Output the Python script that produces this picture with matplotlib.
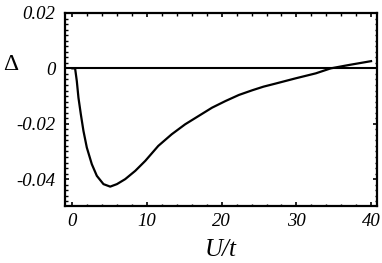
import numpy as np
import matplotlib.pyplot as plt
from matplotlib.ticker import MultipleLocator, FixedLocator

# values
u_t = [0.0, 0.36, 0.59, 0.81, 1.13, 1.48, 1.93, 2.6, 3.27, 4.16, 5.06, 5.96, 7.07,
       8.42, 9.76, 11.5, 13.3, 15.1, 16.9, 18.7, 20.5, 22.3, 24.1, 25.6, 27.2,
       29.9, 32.6, 34.6, 37.0, 40.0]
delta = [0.0, 0.0, -0.0046, -0.0106, -0.0166, -0.0226, -0.0286, -0.0346, -0.0388,
         -0.0418, -0.0427, -0.0418, -0.0400, -0.0370, -0.0334, -0.0280, -0.0238,
         -0.0202, -0.0172, -0.0142, -0.0118, -0.0096, -0.0079, -0.0066, -0.0055,
         -0.0036, -0.0018, 0.0, 0.0012, 0.0026]
x_ticks = [0, 10, 20, 30, 40]
y_ticks = [0.02, 0.0, -0.02, -0.04]
y_labels = ['0.02', '0', '-0.02', '-0.04']

serif = 'Liberation Serif'

fig = plt.figure(figsize=(3.82, 2.63), dpi=100)
ax = fig.add_axes([0.170, 0.2167, 0.817, 0.734])

ax.axhline(0, color='black', lw=1.5)
ax.plot(u_t, delta, color='black', lw=1.6, solid_joinstyle='round')

ax.set_xlim(-1, 40.8)
ax.set_ylim(-0.0497, 0.02)

ax.xaxis.set_major_locator(FixedLocator(x_ticks))
ax.xaxis.set_minor_locator(MultipleLocator(2))
ax.yaxis.set_major_locator(FixedLocator(y_ticks))
ax.yaxis.set_minor_locator(MultipleLocator(0.002))
ax.set_xticklabels([str(v) for v in x_ticks], family=serif, style='italic', fontsize=13.5)
ax.set_yticklabels(y_labels, family=serif, style='italic', fontsize=13.5)

ax.tick_params(which='both', direction='in', top=True, right=True, color='black')
ax.tick_params(which='major', length=3, width=1.2, pad=5)
ax.tick_params(axis='y', which='major', pad=7)
ax.tick_params(which='minor', length=1.8, width=1.0)
for s in ax.spines.values():
    s.set_linewidth(1.6)

fig.text(220.8 / 382, 1 - 250 / 263, 'U/t', family=serif, style='italic', fontsize=18,
         ha='center', va='center')
fig.text(10.5 / 382, 1 - 64 / 263, '\u0394', family=serif, fontsize=17,
         ha='center', va='center')

fig.savefig('out.png', dpi=100)
